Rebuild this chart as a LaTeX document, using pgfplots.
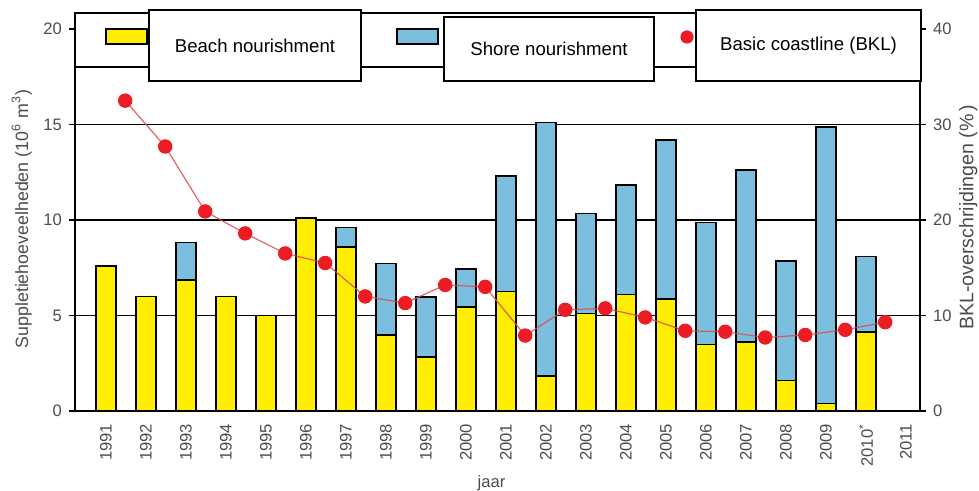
\documentclass[border=0pt]{standalone}
\usepackage{pgfplots}
\pgfplotsset{compat=1.18}
\usepackage{fontspec}
\setmainfont{Liberation Sans}
\definecolor{ycol}{RGB}{255,238,0}
\definecolor{bcol}{RGB}{122,192,222}
\definecolor{rdot}{RGB}{236,28,36}
\definecolor{rline}{RGB}{225,70,80}
\begin{document}
\begin{tikzpicture}
\pgfplotsset{
  common/.style={at={(0,0)}, anchor=south west, scale only axis,
    width=422.5pt, height=199pt, xmin=-0.775, xmax=20.35, ymin=0,
    tick label style={font=\fontsize{8.3}{10}\selectfont, text=black!70},
    /pgf/number format/assume math mode=true,
    tick align=outside, major tick length=3pt, clip=false,
    tick style={black, line width=0.6pt}},
}
\begin{axis}[common, ymax=20.84, ybar stacked, bar width=10pt,
  axis x line*=bottom, axis y line*=left,
  x axis line style={line width=0.9pt}, y axis line style={line width=1.3pt},
  ytick={0,5,10,15,20}, ymajorgrids, grid style={black, line width=0.9pt},
  xtick={0,...,20},
  xticklabels={1991,1992,1993,1994,1995,1996,1997,1998,1999,2000,2001,2002,2003,2004,2005,2006,2007,2008,2009,2010\textsuperscript{*},2011},
  x tick label style={rotate=90, anchor=east},
  major x tick style={draw=none},
  ylabel={Suppletiehoeveelheden (10\textsuperscript{6} m\textsuperscript{3})},
  ylabel style={at={(rel axis cs:-0.063,0.482)}, anchor=center, font=\fontsize{8.9}{10}\selectfont, text=black!70},
  xlabel={jaar},
  xlabel style={at={(rel axis cs:0.493,-0.181)}, anchor=center, font=\fontsize{8.3}{10}\selectfont, text=black!70}]
\addplot[fill=ycol, draw=black, line width=0.8pt] coordinates {
 (0,7.6) (1,6.0) (2,6.86) (3,6.0) (4,5.0) (5,10.09) (6,8.6) (7,3.98) (8,2.84) (9,5.46)
 (10,6.25) (11,1.83) (12,5.11) (13,6.11) (14,5.86) (15,3.49) (16,3.6) (17,1.59) (18,0.4) (19,4.15)};
\addplot[fill=bcol, draw=black, line width=0.8pt] coordinates {
 (0,0) (1,0) (2,1.97) (3,0) (4,0) (5,0) (6,1.0) (7,3.75) (8,3.14) (9,1.97)
 (10,6.05) (11,13.27) (12,5.24) (13,5.72) (14,8.33) (15,6.37) (16,9.02) (17,6.26) (18,14.48) (19,3.93)};
\end{axis}
\begin{axis}[common, ymax=41.68, axis x line=none, axis y line*=right,
  y axis line style={line width=0.9pt},
  ytick={0,10,20,30,40},
  ylabel={BKL-overschrijdingen (\%\,)},
  ylabel style={at={(rel axis cs:1.057,0.487)}, anchor=center, font=\fontsize{9.8}{11}\selectfont, text=black!70}]
\addplot[draw=rline, opacity=0.85, line width=0.6pt, mark=*, mark size=3.3pt,
  mark options={fill=rdot, draw=rdot, opacity=1}] coordinates {
 (0.48,32.5) (1.48,27.7) (2.48,20.9) (3.48,18.6) (4.48,16.5) (5.48,15.5) (6.48,12.0)
 (7.48,11.3) (8.48,13.2) (9.48,13.0) (10.48,7.9) (11.48,10.6) (12.48,10.75) (13.48,9.8)
 (14.48,8.4) (15.48,8.3) (16.48,7.7) (17.48,7.96) (18.48,8.5) (19.48,9.3)};
\end{axis}
% legend
\draw[line width=0.9pt, fill=white] (0pt,172pt) rectangle (422.5pt,199pt);
\draw[fill=ycol, line width=0.8pt] (15.5pt,183.5pt) rectangle (36pt,191pt);
\draw[fill=bcol, line width=0.8pt] (161pt,183.5pt) rectangle (181.5pt,191pt);
\fill[rdot] (306pt,187pt) circle (3.3pt);
\node[draw, fill=white, line width=0.8pt, minimum width=106pt, minimum height=35.5pt, inner sep=0pt,
  font=\fontsize{9.3}{11}\selectfont] at (90pt,182.75pt) {Beach nourishment};
\node[draw, fill=white, line width=0.8pt, minimum width=105pt, minimum height=32pt, inner sep=0pt,
  font=\fontsize{9.3}{11}\selectfont] at (237pt,181pt) {Shore nourishment};
\node[draw, fill=white, line width=0.8pt, minimum width=112.5pt, minimum height=35.5pt, inner sep=0pt,
  font=\fontsize{9.3}{11}\selectfont] at (366.75pt,182.75pt) {Basic coastline (BKL)};
\pgfresetboundingbox
\useasboundingbox (-37.5pt,-40pt) rectangle (452pt,205.5pt);
\end{tikzpicture}
\end{document}
